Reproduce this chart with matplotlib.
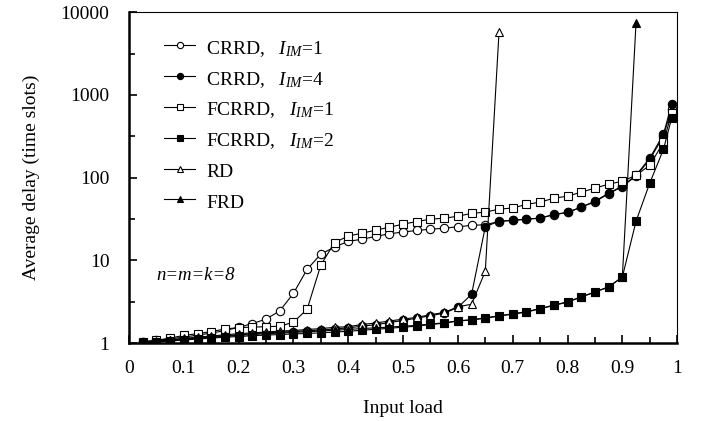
import matplotlib
matplotlib.use("Agg")
import matplotlib.pyplot as plt
from matplotlib.ticker import FixedLocator, FixedFormatter, NullFormatter
import numpy as np

plt.rcParams['font.family'] = ['Liberation Serif', 'DejaVu Serif']
plt.rcParams['mathtext.fontset'] = 'custom'
plt.rcParams['mathtext.rm'] = 'Liberation Serif'
plt.rcParams['mathtext.it'] = 'Liberation Serif:italic'

load = [0.025, 0.05, 0.075, 0.1, 0.125, 0.15, 0.175, 0.2, 0.225, 0.25,
        0.275, 0.3, 0.325, 0.35, 0.375, 0.4, 0.425, 0.45, 0.475, 0.5,
        0.525, 0.55, 0.575, 0.6, 0.625, 0.65, 0.675, 0.7, 0.725, 0.75,
        0.775, 0.8, 0.825, 0.85, 0.875, 0.9, 0.925, 0.95, 0.975, 0.99]

crrd_1 = [1.04, 1.08, 1.13, 1.18, 1.25, 1.32, 1.42, 1.55, 1.72, 1.95,
          2.45, 4.0, 7.8, 11.9, 14.5, 17.0, 18.0, 19.5, 21.0, 22.0,
          23.0, 23.8, 24.5, 25.5, 26.5, 27.0, 29.5, 30.5, 31.5, 32.5,
          35.5, 38.0, 44.0, 51.0, 64.0, 78.0, 105.0, 165.0, 320.0, 680.0]

crrd_4 = [1.02, 1.05, 1.09, 1.12, 1.16, 1.20, 1.23, 1.26, 1.30, 1.33,
          1.36, 1.38, 1.41, 1.44, 1.48, 1.53, 1.60, 1.67, 1.77, 1.88,
          2.0, 2.15, 2.3, 2.7, 3.9, 25.5, 29.8, 30.5, 31.5, 32.4,
          36.0, 38.0, 44.0, 52.0, 65.0, 79.0, 107.0, 172.0, 336.0, 773.0]

fcrrd_1 = [1.03, 1.08, 1.15, 1.24, 1.30, 1.38, 1.48, 1.54, 1.56, 1.58,
           1.60, 1.79, 2.57, 8.8, 16.4, 19.7, 21.3, 23.2, 25.2, 27.4,
           29.5, 31.5, 32.3, 34.2, 37.0, 38.3, 41.6, 43.0, 47.5, 50.6,
           56.5, 59.7, 66.8, 74.6, 83.5, 90.5, 107.0, 141.0, 268.0, 602.0]

fcrrd_2 = [1.0, 1.03, 1.06, 1.09, 1.12, 1.15, 1.18, 1.20, 1.23, 1.25,
           1.27, 1.29, 1.31, 1.33, 1.36, 1.39, 1.43, 1.47, 1.51, 1.56,
           1.60, 1.68, 1.74, 1.85, 1.90, 2.0, 2.12, 2.24, 2.37, 2.6,
           2.85, 3.13, 3.6, 4.14, 4.76, 6.28, 29.8, 86.0, 220.0, 525.0]

rd_load = load[:27]
rd = [1.03, 1.06, 1.10, 1.14, 1.18, 1.22, 1.26, 1.30, 1.33, 1.36,
      1.40, 1.42, 1.46, 1.50, 1.55, 1.58, 1.68, 1.75, 1.85, 1.95,
      2.05, 2.2, 2.35, 2.75, 2.95, 7.4, 5700.0]

frd_load = load[:37]
frd = [1.01, 1.04, 1.08, 1.11, 1.14, 1.18, 1.21, 1.24, 1.27, 1.30,
       1.32, 1.35, 1.37, 1.40, 1.43, 1.46, 1.50, 1.53, 1.56, 1.60,
       1.64, 1.70, 1.76, 1.86, 1.92, 2.02, 2.14, 2.26, 2.40, 2.62,
       2.88, 3.16, 3.62, 4.16, 4.80, 6.3, 7500.0]

labels = ["CRRD,   $I_{IM}$=1", "CRRD,   $I_{IM}$=4",
          "FCRRD,   $I_{IM}$=1", "FCRRD,   $I_{IM}$=2", "RD", "FRD"]

x_ticks = [0, 0.1, 0.2, 0.3, 0.4, 0.5, 0.6, 0.7, 0.8, 0.9, 1]
x_tick_labels = ["0", "0.1", "0.2", "0.3", "0.4", "0.5", "0.6", "0.7", "0.8", "0.9", "1"]
y_ticks = [1, 10, 100, 1000, 10000]
y_tick_labels = ["1", "10", "100", "1000", "10000"]

fig = plt.figure(figsize=(7.01, 4.21), dpi=100)
ax = fig.add_axes([0.184, 0.185, 0.782, 0.786])

common = dict(color='black', linewidth=0.8, markersize=6, markeredgewidth=0.8)
ax.plot(load, crrd_1, marker='o', markerfacecolor='white', label=labels[0], **common)
ax.plot(load, crrd_4, marker='o', markerfacecolor='black', label=labels[1], **common)
ax.plot(load, fcrrd_1, marker='s', markerfacecolor='white', label=labels[2], **common)
ax.plot(load, fcrrd_2, marker='s', markerfacecolor='black', label=labels[3], **common)
ax.plot(rd_load, rd, marker='^', markerfacecolor='white', label=labels[4], **common)
ax.plot(frd_load, frd, marker='^', markerfacecolor='black', label=labels[5], **common)

ax.set_yscale('log')
ax.set_xlim(0, 1)
ax.set_ylim(1, 10000)

ax.xaxis.set_major_locator(FixedLocator(x_ticks))
ax.xaxis.set_major_formatter(FixedFormatter(x_tick_labels))
ax.xaxis.set_minor_locator(FixedLocator(np.arange(0.05, 1.0, 0.1)))
ax.yaxis.set_major_locator(FixedLocator(y_ticks))
ax.yaxis.set_major_formatter(FixedFormatter(y_tick_labels))
ax.yaxis.set_minor_locator(FixedLocator([10 ** (k + 0.5) for k in range(4)]))
ax.yaxis.set_minor_formatter(NullFormatter())

ax.tick_params(which='both', direction='in', top=False, right=False,
               labelsize=14, width=1.2)
ax.tick_params(which='major', length=6)
ax.tick_params(which='minor', length=4)
ax.tick_params(axis='x', which='major', pad=12)
ax.tick_params(axis='y', which='major', pad=14)
for sp in ['left', 'bottom']:
    ax.spines[sp].set_linewidth(1.8)
for sp in ['top', 'right']:
    ax.spines[sp].set_linewidth(0.8)

ax.set_xlabel("Input load", fontsize=14, labelpad=17)
ax.set_ylabel("Average delay (time slots)", fontsize=14, labelpad=15)

ax.text(0.05, 6.6, "n=m=k=8", fontsize=13.5, style='italic', va='center', ha='left')

leg = ax.legend(loc='upper left', bbox_to_anchor=(0.05, 0.95), frameon=False,
                fontsize=14, handlelength=1.6, handleheight=1.3, labelspacing=0.46,
                handletextpad=0.55, borderaxespad=0.0, markerscale=0.75)

fig.savefig("out.png", dpi=100)
